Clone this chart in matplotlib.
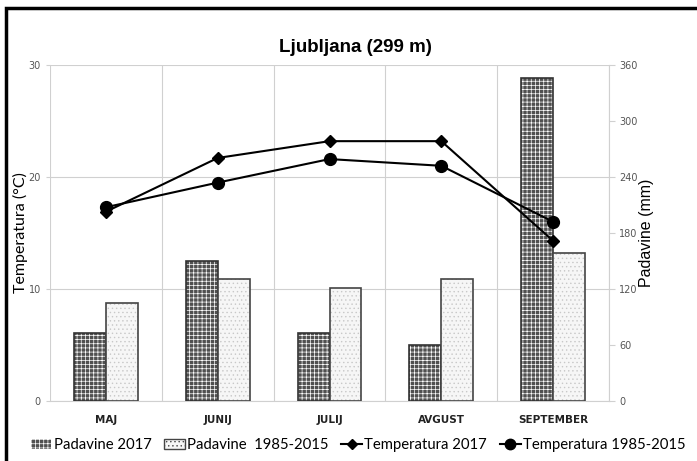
import matplotlib
matplotlib.use("Agg")
import matplotlib.pyplot as plt
from matplotlib.patches import Patch, Rectangle
from matplotlib.lines import Line2D
import numpy as np

months = ["MAJ", "JUNIJ", "JULIJ", "AVGUST", "SEPTEMBER"]
rain_2017 = [73, 150, 73, 60, 346]
rain_norm = [105, 131, 121, 131, 159]
temp_2017 = [16.9, 21.7, 23.2, 23.2, 14.3]
temp_norm = [17.3, 19.5, 21.6, 21.0, 16.0]

plt.rcParams["hatch.linewidth"] = 0.5

fig = plt.figure(figsize=(6.97, 4.61), dpi=100)
ax = fig.add_axes([50 / 697, 60 / 461, 559 / 697, 336 / 461])
ax2 = ax.twinx()
ax3 = ax.twinx()

x = np.arange(len(months))
w = 0.286
grid_c = "#d0d0d0"
dark_face = "#505050"

# grid / left axis
ax.set_xlim(-0.5, len(months) - 0.5)
ax.set_ylim(0, 30)
ax.set_yticks([0, 10, 20, 30])
ax.grid(axis="y", color=grid_c, lw=0.8)
for b in np.arange(-0.5, len(months), 1.0):
    ax.axvline(b, color=grid_c, lw=0.8, zorder=0)
ax.set_xticks(x)
ax.set_xticklabels(months, fontsize=7.5, fontweight="bold", color="#222222")
ax.tick_params(axis="x", length=0, pad=10)
ax.tick_params(axis="y", labelsize=7, colors="#555555", length=3, color=grid_c)
for s in ["top", "right", "left"]:
    ax.spines[s].set_visible(False)
ax.spines["bottom"].set_color(grid_c)
ax.set_ylabel("Temperatura (°C)", fontsize=11.5, family="Lato")
ax.yaxis.set_label_coords(-0.039, 0.5)

# bars on right axis
ax2.set_ylim(0, 360)
ax2.set_yticks(range(0, 361, 60))
ax2.tick_params(axis="y", labelsize=7, colors="#555555", length=4, color=grid_c)
for s in ["top", "left", "bottom"]:
    ax2.spines[s].set_visible(False)
ax2.spines["right"].set_color(grid_c)
ax2.set_ylabel("Padavine (mm)", fontsize=11.5, family="Liberation Sans")
ax2.yaxis.set_label_coords(1.054, 0.5)

ax2.bar(x - w / 2, rain_2017, w, color=dark_face, hatch="++++", edgecolor="white", lw=0)
ax2.bar(x - w / 2, rain_2017, w, fill=False, edgecolor="#333333", lw=1.2)
ax2.bar(x + w / 2, rain_norm, w, color="#f6f6f6", hatch="....", edgecolor="#c8c8c8", lw=0)
ax2.bar(x + w / 2, rain_norm, w, fill=False, edgecolor="#444444", lw=1.2)

# temperature lines
ax3.set_ylim(0, 30)
ax3.axis("off")
ax3.plot(x, temp_2017, color="black", lw=1.5, marker="D", ms=6)
ax3.plot(x, temp_norm, color="black", lw=1.5, marker="o", ms=8.5)

fig.text(355 / 697, 1 - 47 / 461, "Ljubljana (299 m)", ha="center", va="center",
         fontsize=13.5, fontweight="bold", family="Liberation Sans")

handles = [
    Patch(facecolor=dark_face, edgecolor="white", hatch="++++", lw=0),
    Patch(facecolor="#f6f6f6", edgecolor="#444444", hatch="...."),
    Line2D([], [], color="black", marker="D", ms=5, lw=1.5),
    Line2D([], [], color="black", marker="o", ms=7.5, lw=1.5),
]
labels = ["Padavine 2017", "Padavine  1985-2015", "Temperatura 2017", "Temperatura 1985-2015"]
fig.legend(handles, labels, loc="center", bbox_to_anchor=(358 / 697, 1 - 445 / 461),
           ncol=4, frameon=False, prop={"family": "Lato", "size": 10.7},
           handlelength=1.4, handletextpad=0.15, columnspacing=0.85)

# outer frame
fig.patches.append(Rectangle((6 / 697, -0.05), 1.1, 1 - 8 / 461 + 0.05,
                             transform=fig.transFigure, fill=False,
                             edgecolor="black", lw=2.5))

fig.savefig("out.png", dpi=100)
